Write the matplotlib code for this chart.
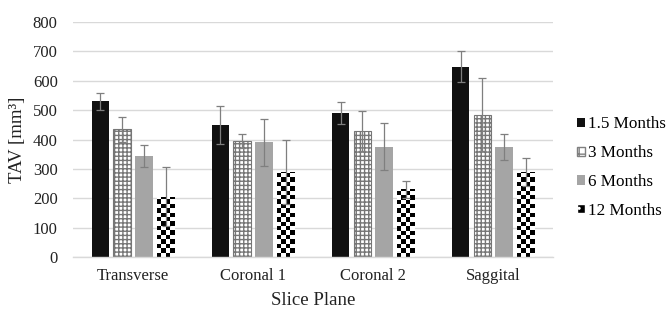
import numpy as np
import matplotlib
matplotlib.use('Agg')
import matplotlib.pyplot as plt
from matplotlib.patches import Patch

plt.rcParams['font.family'] = ['Liberation Serif', 'DejaVu Serif']
plt.rcParams['hatch.linewidth'] = 1.0

# data
planes = ['Transverse', 'Coronal 1', 'Coronal 2', 'Saggital']
groups = ['1.5 Months', '3 Months', '6 Months', '12 Months']
tav = {
    '1.5 Months': [530, 450, 490, 648],
    '3 Months': [435, 395, 430, 485],
    '6 Months': [345, 390, 375, 375],
    '12 Months': [205, 290, 230, 290],
}
tav_err = {
    '1.5 Months': [30, 65, 38, 52],
    '3 Months': [43, 23, 68, 125],
    '6 Months': [37, 80, 80, 45],
    '12 Months': [100, 110, 30, 48],
}

fig = plt.figure(figsize=(6.69, 3.10), dpi=100)
ax = fig.add_axes([0.109, 0.171, 0.718, 0.758])
ax.set_xlim(-0.5, 3.5)
ax.set_ylim(0, 800)

x = np.arange(len(planes))
w = 0.146
step = 0.181
offsets = (np.arange(4) - 1.5)*step
err_kw = dict(ecolor='#7f7f7f', elinewidth=0.9, capsize=3, capthick=0.9)

def checker_fill(ax, bar, n=4):
    """fill a bar with a black/white checkerboard clipped to its outline"""
    x0, y0 = bar.get_x(), bar.get_y()
    bw, bh = bar.get_width(), bar.get_height()
    # pixel size of bar (limits are fixed beforehand)
    (px0, py0), (px1, py1) = ax.transData.transform([(x0, y0), (x0+bw, y0+bh)])
    sq = (px1-px0)/n
    nrows = max(1, int(np.ceil((py1-py0)/sq)))
    img = (np.add.outer(np.arange(nrows), np.arange(n)) % 2).astype(float)
    dy = bh/((py1-py0)/sq)
    im = ax.imshow(img, cmap='gray', vmin=0, vmax=1, extent=(x0, x0+bw, y0, y0+nrows*dy),
                   origin='lower', aspect='auto', interpolation='nearest', zorder=2)
    im.set_clip_path(bar)

colors = {'1.5 Months': '#111111', '6 Months': '#a5a5a5'}
for i, g in enumerate(groups):
    pos = x + offsets[i]
    if g == '3 Months':
        bars = ax.bar(pos, tav[g], w, color='white', edgecolor='#767676', hatch='++++',
                      linewidth=0.8, zorder=2)
    elif g == '12 Months':
        bars = ax.bar(pos, tav[g], w, color='white', edgecolor='none', zorder=2)
        for b in bars:
            checker_fill(ax, b)
    else:
        bars = ax.bar(pos, tav[g], w, color=colors[g], edgecolor='none', zorder=2)
    ax.errorbar(pos, tav[g], yerr=tav_err[g], fmt='none', zorder=4, **err_kw)

ax.set_xlim(-0.5, 3.5)
ax.set_ylim(0, 800)
ax.set_yticks(range(0, 801, 100))
ax.set_xticks(x)
ax.set_xticklabels(planes)
ax.tick_params(length=0, labelsize=12, colors='#222222')
ax.tick_params(axis='x', pad=8)
ax.tick_params(axis='y', pad=11)
ax.grid(axis='y', color='#d9d9d9', linewidth=1)
ax.set_axisbelow(True)
for s in ['top', 'right', 'left']:
    ax.spines[s].set_visible(False)
ax.spines['bottom'].set_color('#d9d9d9')
ax.spines['bottom'].set_linewidth(1)
ax.set_ylabel('TAV [mm³]', fontsize=13.5, color='#222222', labelpad=5)
ax.set_xlabel('Slice Plane', fontsize=13.5, color='#222222', labelpad=6)

handles = [
    Patch(facecolor='#111111', edgecolor='none'),
    Patch(facecolor='white', edgecolor='#7f7f7f', hatch='++'),
    Patch(facecolor='#a5a5a5', edgecolor='none'),
    Patch(facecolor='black', edgecolor='white', hatch='..'),
]
ax.legend(handles, groups, loc='center left', bbox_to_anchor=(1.036, 0.38), frameon=False,
          fontsize=12.3, handlelength=0.45, handleheight=0.45, handletextpad=0.15,
          labelspacing=0.75, borderpad=0.4, borderaxespad=0)

fig.savefig('out.png', dpi=100)
